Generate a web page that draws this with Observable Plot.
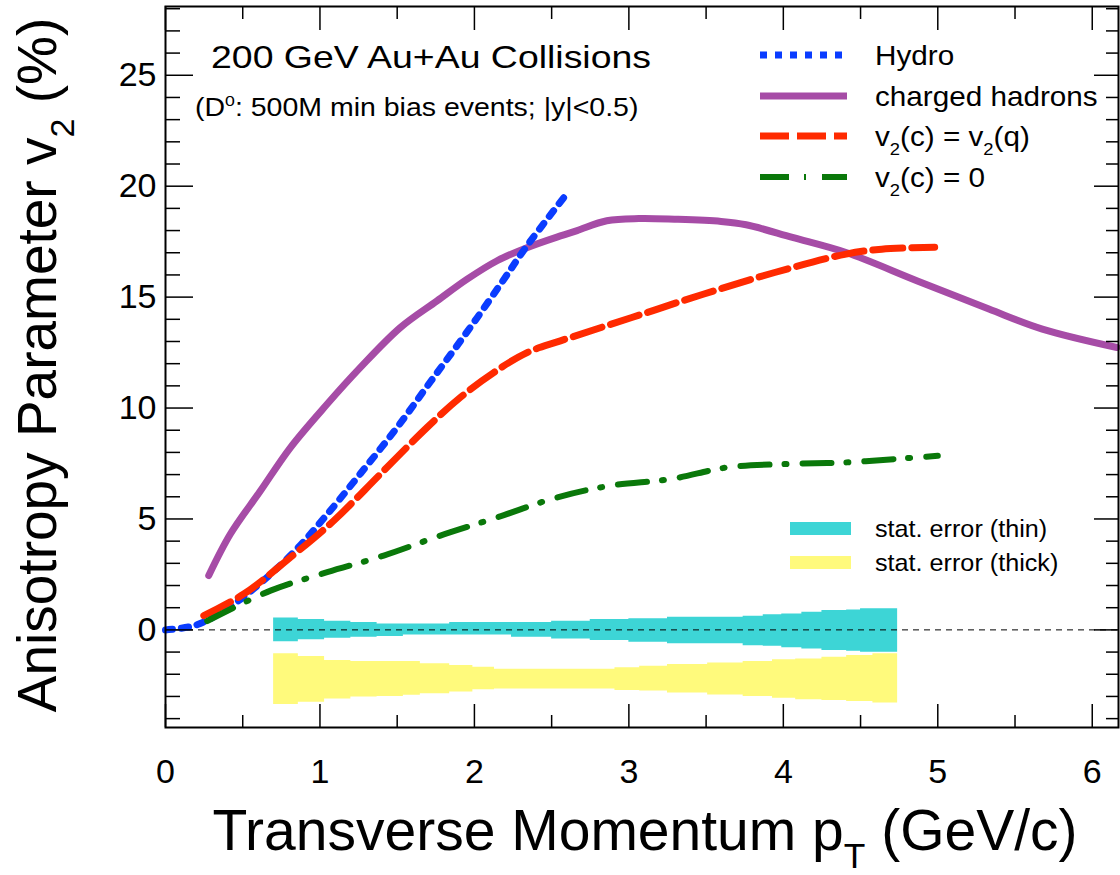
<!DOCTYPE html>
<html><head><meta charset="utf-8">
<script src="https://cdn.jsdelivr.net/npm/d3@7"></script>
<script src="https://cdn.jsdelivr.net/npm/@observablehq/plot@0.6"></script>
<style>html,body{margin:0;padding:0;background:#fff}#chart{width:1120px;height:875px}</style>
</head><body><div id="chart"></div>
<script>
// ---- data ----
const hydroX = [0, 0.19, 0.38, 0.57, 0.83, 1.03, 1.26, 1.50, 1.72, 1.95, 2.17, 2.34, 2.58];
const hydroY = [0, 0.2, 0.87, 1.85, 3.5, 5.07, 7.03, 9.13, 11.23, 13.41, 15.59, 17.31, 19.5];

const hadronX = [0.28, 0.42, 0.615, 0.81, 1.047, 1.262, 1.521, 1.758, 1.953, 2.147, 2.34, 2.557, 2.665, 2.857, 3.065, 3.296, 3.597, 3.759, 4.059, 4.406, 4.868, 5.331, 5.677, 6.16];
const hadronY = [2.45, 4.32, 6.27, 8.23, 10.18, 11.83, 13.63, 14.83, 15.81, 16.64, 17.23, 17.76, 18.0, 18.44, 18.54, 18.51, 18.41, 18.26, 17.69, 17.01, 15.73, 14.46, 13.56, 12.73];

const cqX = [0.248, 0.507, 0.809, 1.089, 1.392, 1.694, 1.909, 2.125, 2.341, 2.557, 3.019, 3.481, 3.944, 4.406, 4.637, 4.98];
const cqY = [0.64, 1.62, 3.27, 4.92, 7.03, 9.13, 10.48, 11.6, 12.5, 13.03, 14.08, 15.13, 16.11, 16.94, 17.16, 17.25];

const c0X = [0.27, 0.68, 1.047, 1.413, 1.78, 2.147, 2.535, 2.88, 3.273, 3.643, 4.036, 4.406, 4.776, 5.0];
const c0Y = [0.4, 1.77, 2.6, 3.35, 4.25, 5.07, 5.97, 6.5, 6.8, 7.33, 7.48, 7.55, 7.73, 7.85];

const thinX  = [0.70, 0.86, 1.03, 1.20, 1.37, 1.54, 1.84, 2.24, 2.50, 2.75, 3.00, 3.25, 3.74, 3.87, 3.99, 4.12, 4.25, 4.41, 4.50, 4.74];
const thinHi = [0.54, 0.47, 0.39, 0.33, 0.26, 0.26, 0.33, 0.33, 0.39, 0.47, 0.50, 0.57, 0.62, 0.68, 0.72, 0.80, 0.87, 0.90, 0.95, 0.95];
const thinLo = [-0.53, -0.45, -0.38, -0.33, -0.30, -0.23, -0.23, -0.33, -0.41, -0.48, -0.56, -0.63, -0.71, -0.74, -0.81, -0.86, -0.93, -0.96, -1.01, -1.01];

const thickX  = [0.70, 0.86, 1.03, 1.20, 1.37, 1.54, 1.65, 1.84, 1.99, 2.13, 2.91, 3.07, 3.25, 3.51, 3.74, 3.93, 4.08, 4.25, 4.41, 4.58, 4.74];
const thickHi = [-1.08, -1.2, -1.38, -1.43, -1.43, -1.43, -1.53, -1.6, -1.68, -1.77, -1.71, -1.64, -1.56, -1.49, -1.43, -1.35, -1.31, -1.23, -1.16, -1.08, -1.08];
const thickLo = [-3.36, -3.26, -3.11, -3.03, -3.0, -2.95, -2.88, -2.8, -2.7, -2.67, -2.73, -2.76, -2.84, -2.93, -3.0, -3.08, -3.15, -3.18, -3.23, -3.29, -3.29];

const xMajor = [0, 1, 2, 3, 4, 5, 6];
const xMinor = [0.5, 1.5, 2.5, 3.5, 4.5, 5.5];
const yMajor = [0, 5, 10, 15, 20, 25];
const yMinor = [-4, -3, -2, -1, 1, 2, 3, 4, 6, 7, 8, 9, 11, 12, 13, 14, 16, 17, 18, 19, 21, 22, 23, 24, 26, 27, 28];

// ---- layout / style ----
const W = 1120, H = 875;
const mL = 165, mR = 2, mT = 6, mB = 148;
const plotW = W - mL - mR, plotH = H - mT - mB;
const FONT = "'Liberation Sans', Arial, Helvetica, sans-serif";
const COL = {hydro: "#0a3cff", hadron: "#a64ca6", cq: "#ff2a00", c0: "#0a780a", thin: "#3dd5d6", thick: "#fffa7c"};

const rows = (xs, ys) => xs.map((x, i) => ({x, y: ys[i]}));
const band = (xs, lo, hi) => xs.map((x, i) => ({x, lo: lo[i], hi: hi[i]}));

const chart = Plot.plot({
  width: W, height: H,
  marginLeft: mL, marginRight: mR, marginTop: mT, marginBottom: mB,
  style: {fontFamily: FONT, background: "#fff", color: "#000"},
  x: {domain: [0, 6.17]},
  y: {domain: [-4.4, 28.1]},
  marks: [
    Plot.areaY(band(thinX, thinLo, thinHi), {x: "x", y1: "lo", y2: "hi", curve: "step-after", fill: COL.thin}),
    Plot.areaY(band(thickX, thickLo, thickHi), {x: "x", y1: "lo", y2: "hi", curve: "step-after", fill: COL.thick}),
    Plot.ruleY([0], {stroke: "#000", strokeWidth: 1, strokeDasharray: "6,5"}),
    Plot.line(rows(hadronX, hadronY), {x: "x", y: "y", stroke: COL.hadron, strokeWidth: 7, curve: "catmull-rom"}),
    Plot.line(rows(hydroX, hydroY), {x: "x", y: "y", stroke: COL.hydro, strokeWidth: 7, strokeDasharray: "7,9", curve: "catmull-rom"}),
    Plot.line(rows(cqX, cqY), {x: "x", y: "y", stroke: COL.cq, strokeWidth: 7, strokeDasharray: "30,9", curve: "catmull-rom"}),
    Plot.line(rows(c0X, c0Y), {x: "x", y: "y", stroke: COL.c0, strokeWidth: 6, strokeDasharray: "29,15,2,16", curve: "catmull-rom"}),
    // inside ticks, mirrored on all four sides
    Plot.tickX(xMajor, {x: d => d, stroke: "#000", strokeWidth: 1.5, insetTop: plotH - 23}),
    Plot.tickX(xMinor, {x: d => d, stroke: "#000", strokeWidth: 1.5, insetTop: plotH - 12}),
    Plot.tickX(xMajor, {x: d => d, stroke: "#000", strokeWidth: 1.5, insetBottom: plotH - 24}),
    Plot.tickX(xMinor, {x: d => d, stroke: "#000", strokeWidth: 1.5, insetBottom: plotH - 13}),
    Plot.tickY(yMajor, {y: d => d, stroke: "#000", strokeWidth: 1.5, insetRight: plotW - 28}),
    Plot.tickY(yMinor, {y: d => d, stroke: "#000", strokeWidth: 1.5, insetRight: plotW - 15}),
    Plot.tickY(yMajor, {y: d => d, stroke: "#000", strokeWidth: 1.5, insetLeft: plotW - 24}),
    Plot.tickY(yMinor, {y: d => d, stroke: "#000", strokeWidth: 1.5, insetLeft: plotW - 12}),
    Plot.frame({stroke: "#000", strokeWidth: 2}),
    Plot.axisX({ticks: xMajor, tickSize: 0, tickPadding: 31, fontSize: 34, label: null, tickFormat: d => String(d)}),
    Plot.axisY({ticks: yMajor, tickSize: 0, tickPadding: 9, fontSize: 34, label: null, tickFormat: d => String(d)})
  ]
});
document.getElementById("chart").appendChild(chart);

// ---- annotations: axis titles, labels, legends ----
const svg = d3.select(chart);
const g = svg.append("g").attr("font-family", FONT).attr("fill", "#000");

// text with sub/superscripts; sx stretches glyphs horizontally
function rich(parent, x, y, parts, size, {anchor = "start", rotate = 0, sx = 1} = {}) {
  const t = parent.append("text").attr("x", 0).attr("y", 0)
    .attr("font-size", size).attr("text-anchor", anchor)
    .attr("transform", `translate(${x},${y}) rotate(${rotate}) scale(${sx},1)`);
  let shift = 0;
  for (const [s, kind] of parts) {
    const sp = t.append("tspan").text(s);
    let target = 0;
    if (kind === "sub") { target = 0.32 * size; sp.attr("font-size", size * 0.62); }
    if (kind === "sup") { target = -0.42 * size; sp.attr("font-size", size * 0.62); }
    sp.attr("dy", target - shift);
    shift = target;
  }
  return t;
}

// axis titles
rich(g, 645, 850, [["Transverse Momentum p"], ["T", "sub"], [" (GeV/c)"]], 57, {anchor: "middle"});
rich(g, 56, 365, [["Anisotropy Parameter v"], ["2", "sub"], [" (%)"]], 55, {anchor: "middle", rotate: -90});

// in-plot text
rich(g, 211, 68, [["200 GeV Au+Au Collisions"]], 32, {sx: 1.17});
rich(g, 195, 116, [["(D"], ["0", "sup"], [": 500M min bias events; |y|<0.5)"]], 25, {sx: 1.14});

// curve legend
const leg = [
  {y: 55, color: COL.hydro, w: 7, dash: "7,8", parts: [["Hydro"]]},
  {y: 96, color: COL.hadron, w: 7, dash: null, parts: [["charged hadrons"]]},
  {y: 136, color: COL.cq, w: 7, dash: "29,8", parts: [["v"], ["2", "sub"], ["(c) = v"], ["2", "sub"], ["(q)"]]},
  {y: 177, color: COL.c0, w: 6, dash: "29,15,2,16", parts: [["v"], ["2", "sub"], ["(c) = 0"]]}
];
for (const e of leg) {
  const ln = g.append("line").attr("x1", 760).attr("x2", 847).attr("y1", e.y).attr("y2", e.y)
    .attr("stroke", e.color).attr("stroke-width", e.w);
  if (e.dash) ln.attr("stroke-dasharray", e.dash);
  rich(g, 875, e.y + 10, e.parts, 28, {sx: 1.06});
}

// band legend
const bleg = [
  {y: 522, color: COL.thin, label: "stat. error (thin)"},
  {y: 556, color: COL.thick, label: "stat. error (thick)"}
];
for (const e of bleg) {
  g.append("rect").attr("x", 790).attr("y", e.y).attr("width", 61).attr("height", 13).attr("fill", e.color);
  rich(g, 875, e.y + 15, [[e.label]], 24, {sx: 1.05});
}
</script>
</body></html>
